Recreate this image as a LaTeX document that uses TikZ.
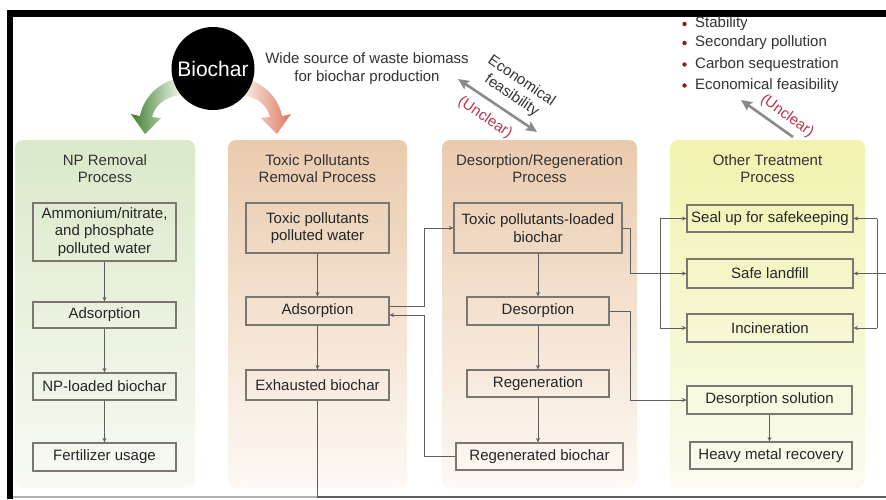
\documentclass[tikz,border=0pt]{standalone}
\usepackage{fontspec}
\setmainfont{Liberation Sans}
\usetikzlibrary{arrows.meta}
\definecolor{txt}{HTML}{262626}
\definecolor{ttlc}{HTML}{333333}
\definecolor{boxc}{HTML}{7A7670}
\definecolor{conc}{HTML}{5E5E5E}
\definecolor{garr}{HTML}{8A8A8A}
\definecolor{redt}{HTML}{B83548}
\definecolor{bul}{HTML}{8B1C1C}
\definecolor{npT}{HTML}{DAE9C9}
\definecolor{npM}{HTML}{E8F1DE}
\definecolor{npB}{HTML}{F8FAF4}
\definecolor{txT}{HTML}{EACBAD}
\definecolor{txM}{HTML}{F3E0CD}
\definecolor{txB}{HTML}{FDF9F4}
\definecolor{otT}{HTML}{F1F3AE}
\definecolor{otM}{HTML}{F6F7D2}
\definecolor{otB}{HTML}{FBFBF1}
\definecolor{grA}{HTML}{3F7D2E}
\definecolor{grB}{HTML}{EEF5E8}
\definecolor{rdA}{HTML}{DD7A62}
\definecolor{rdB}{HTML}{FBEDE8}
\begin{document}
\begin{tikzpicture}[x=1pt,y=-1pt,
  every node/.style={font=\fontsize{15}{17.5}\selectfont, text=txt},
  bx/.style={draw=boxc, line width=1.2pt, align=center, inner sep=0pt},
  ttl/.style={align=center, text=ttlc},
  con/.style={draw=conc, line width=1pt, -{Stealth[length=4.5pt,width=4pt]}},
  conl/.style={draw=conc, line width=1pt},
  bigarrow/.style={draw=garr, line width=2.6pt},
  rtext/.style={text=redt},
  panel/.style={rounded corners=8pt}
]
\useasboundingbox (0,0) rectangle (886,499);
\fill[white] (0,0) rectangle (886,499);

% panels
\shade[panel, top color=npT, middle color=npM, bottom color=npB] (15,140) rectangle (195,488);
\shade[panel, top color=txT, middle color=txM, bottom color=txB] (228,140) rectangle (407,488);
\shade[panel, top color=txT, middle color=txM, bottom color=txB] (442,140) rectangle (637,488);
\shade[panel, top color=otT, middle color=otM, bottom color=otB] (670,140) rectangle (865,488);

% frame
\fill[black] (7,10) rectangle (13,499);
\fill[black] (7,10) rectangle (886,17);
\draw[line width=2pt, draw=gray!60] (13,497) -- (318,497);

% biochar circle and curved arrows
\shade[left color=grA, right color=grB]
  (172,80) .. controls (155,86) and (143,100) .. (140,116)
  -- (131,114) -- (145,134) -- (161,118) -- (152,117)
  .. controls (155,105) and (165,97) .. (180,95) -- cycle;
\shade[left color=rdB, right color=rdA]
  (250,80) .. controls (267,86) and (279,100) .. (282,116)
  -- (291,114) -- (277,134) -- (261,118) -- (270,117)
  .. controls (267,105) and (257,97) .. (242,95) -- cycle;
\node[circle, fill=black, minimum size=83pt, inner sep=0pt,
      font=\fontsize{21}{24}\selectfont, text=white] (bio) at (213,68.5) {Biochar};

\node[align=center, text=ttlc] (wide) at (367,68.5) {Wide source of waste biomass\\for biochar production};

% economical feasibility double arrow
\coordinate (ea) at (458,79);
\coordinate (eb) at (537,132);
\draw[bigarrow, {Stealth[length=11pt,width=10pt,inset=2pt]}-{Stealth[length=11pt,width=10pt,inset=2pt]}] (ea) -- (eb);
\node[align=center, rotate=-34, text=ttlc] (econ) at (516.5,88.5) {Economical\\feasibility};
\node[rtext, rotate=-34] (unc1) at (485,118) {(Unclear)};

% bullets
\foreach \t/\yy/\nm in {Stability/24/s1, Secondary pollution/43/s2, Carbon sequestration/64.5/s3, Economical feasibility/85.5/s4}{
  \node[anchor=west, inner sep=0pt, text=ttlc] (\nm) at (695,\yy) {\t};
  \fill[bul] (684.5,\yy) circle (2.2pt);
}
\coordinate (ua) at (793,137);
\coordinate (ub) at (741,100);
\draw[bigarrow, -{Stealth[length=11pt,width=10pt,inset=2pt]}] (ua) -- (ub);
\node[rtext, rotate=-36] (unc2) at (787,116) {(Unclear)};

% titles
\node[ttl] (t1) at (105,168.5) {NP Removal\\Process};
\node[ttl] (t2) at (317.5,168.5) {Toxic Pollutants\\Removal Process};
\node[ttl] (t3) at (539.5,168.5) {Desorption/Regeneration\\Process};
\node[ttl] (t4) at (767.5,168.5) {Other Treatment\\Process};

% column 1
\node[bx, minimum width=143pt, minimum height=58pt] (b11) at (104.5,232) {Ammonium/nitrate,\\and phosphate\\polluted water};
\node[bx, minimum width=143pt, minimum height=26pt] (b12) at (104.5,315) {Adsorption};
\node[bx, minimum width=143pt, minimum height=27pt] (b13) at (104.5,386.5) {NP-loaded biochar};
\node[bx, minimum width=143pt, minimum height=28pt] (b14) at (104.5,457) {Fertilizer usage};
\draw[con] (b11) -- (b12);
\draw[con] (b12) -- (b13);
\draw[con] (b13) -- (b14);

% column 2
\node[bx, minimum width=143pt, minimum height=50pt] (b21) at (317.5,228) {Toxic pollutants\\polluted water};
\node[bx, minimum width=143pt, minimum height=28pt] (b22) at (317.5,311) {Adsorption};
\node[bx, minimum width=143pt, minimum height=30pt] (b23) at (317.5,385) {Exhausted biochar};
\draw[con] (b21) -- (b22);
\draw[con] (b22) -- (b23);

% column 3
\node[bx, minimum width=168pt, minimum height=50pt] (b31) at (538,228) {Toxic pollutants-loaded\\biochar};
\node[bx, minimum width=142pt, minimum height=28pt] (b32) at (538,311) {Desorption};
\node[bx, minimum width=142pt, minimum height=27pt] (b33) at (538,383.5) {Regeneration};
\node[bx, minimum width=167pt, minimum height=27pt] (b34) at (539.5,456.5) {Regenerated biochar};
\draw[con] (b31) -- (b32);
\draw[con] (b32) -- (b33);
\draw[con] (b33.south) -- (b33.south |- b34.north);

% column 4
\node[bx, minimum width=166pt, minimum height=27pt] (b41) at (770,218.5) {Seal up for safekeeping};
\node[bx, minimum width=166pt, minimum height=29pt] (b42) at (770,273.5) {Safe landfill};
\node[bx, minimum width=166pt, minimum height=28pt] (b43) at (770,328) {Incineration};
\node[bx, minimum width=165pt, minimum height=28pt] (b44) at (769.5,400) {Desorption solution};
\node[bx, minimum width=162pt, minimum height=27pt] (b45) at (771,455.5) {Heavy metal recovery};
\draw[con] (b44.south) -- (b44.south |- b45.north);

% cross connectors
\coordinate (xA) at (424,0);
\coordinate (xB) at (660,0);
\coordinate (xR) at (877,0);
\coordinate (xE) at (894,0);
\coordinate (yB) at (0,497);
\draw[con] ([yshift=5pt]b22.east) -- ([yshift=5pt]b22.east -| xA) |- (b31.west);
\draw[con] (b34.west) -- (b34.west -| xA) |- ([yshift=-4pt]b22.east);
\draw[con] (b31.east) -- ++(8,0) |- (b42.west);
\draw[con] (b32.east) -- ++(21,0) |- (b44.west);
\draw[conl] (b41.west -| xB) -- (b43.west -| xB);
\draw[con] (b41.west -| xB) -- (b41.west);
\draw[con] (b43.west -| xB) -- (b43.west);
\draw[conl] (b41.east -| xR) -- (b43.east -| xR);
\draw[con] (b41.east -| xR) -- (b41.east);
\draw[con] (b43.east -| xR) -- (b43.east);
\draw[con, line width=1.4pt] (b23.south) -- (b23.south |- yB) -- (yB -| xE) -- (b42.east -| xE) -- (b42.east);
\end{tikzpicture}
\end{document}
